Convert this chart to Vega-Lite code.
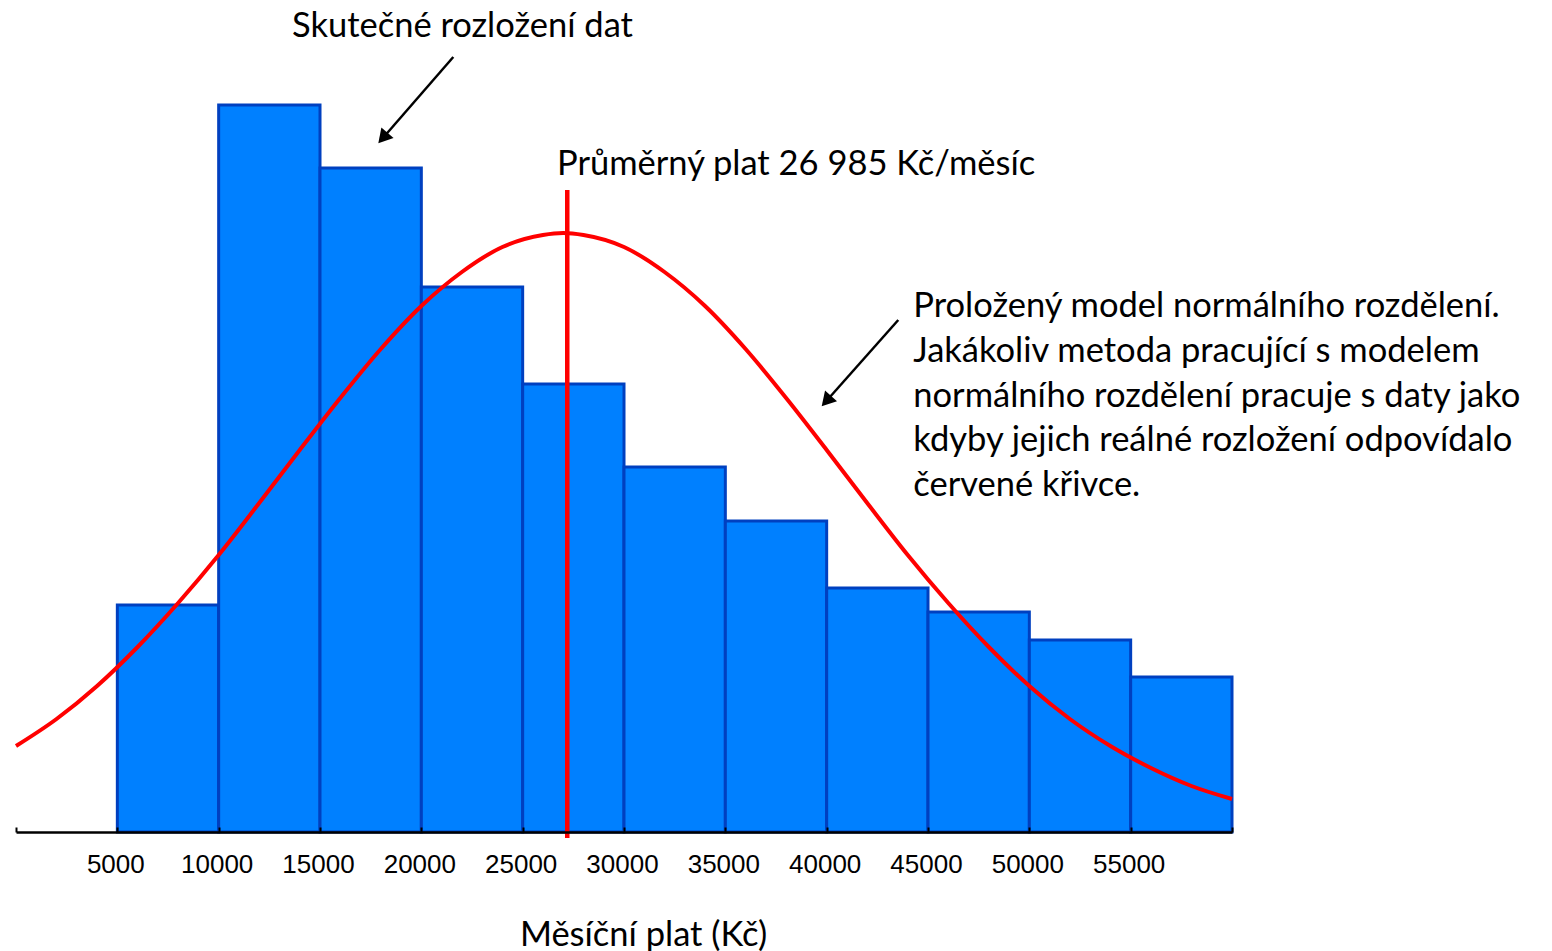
{
  "$schema": "https://vega.github.io/schema/vega-lite/v6.json",
  "width": 1216,
  "height": 832,
  "autosize": "none",
  "padding": {"left": 16, "top": 0, "right": 320, "bottom": 119},
  "background": "white",
  "config": {"view": {"stroke": null}},
  "datasets": {
    "bins": [
      {"start": 5000, "end": 10000, "count": 227},
      {"start": 10000, "end": 15000, "count": 727},
      {"start": 15000, "end": 20000, "count": 664},
      {"start": 20000, "end": 25000, "count": 545},
      {"start": 25000, "end": 30000, "count": 448},
      {"start": 30000, "end": 35000, "count": 365},
      {"start": 35000, "end": 40000, "count": 311},
      {"start": 40000, "end": 45000, "count": 244},
      {"start": 45000, "end": 50000, "count": 220},
      {"start": 50000, "end": 55000, "count": 192},
      {"start": 55000, "end": 60000, "count": 155}
    ],
    "curve": [
      {"salary": 0, "density": 86},
      {"salary": 2000, "density": 113},
      {"salary": 4000, "density": 146},
      {"salary": 6000, "density": 185},
      {"salary": 8000, "density": 229},
      {"salary": 10000, "density": 277},
      {"salary": 12000, "density": 329},
      {"salary": 14000, "density": 382},
      {"salary": 16000, "density": 434},
      {"salary": 18000, "density": 483},
      {"salary": 20000, "density": 526},
      {"salary": 22000, "density": 560},
      {"salary": 24000, "density": 585},
      {"salary": 26000, "density": 597},
      {"salary": 27000, "density": 599},
      {"salary": 28000, "density": 597},
      {"salary": 30000, "density": 585},
      {"salary": 32000, "density": 560},
      {"salary": 34000, "density": 526},
      {"salary": 36000, "density": 483},
      {"salary": 38000, "density": 434},
      {"salary": 40000, "density": 382},
      {"salary": 42000, "density": 329},
      {"salary": 44000, "density": 277},
      {"salary": 46000, "density": 229},
      {"salary": 48000, "density": 185},
      {"salary": 50000, "density": 146},
      {"salary": 52000, "density": 113},
      {"salary": 54000, "density": 86},
      {"salary": 56000, "density": 64},
      {"salary": 58000, "density": 46},
      {"salary": 60000, "density": 33}
    ],
    "mean": [{"salary": 27200, "low": -6, "high": 642}],
    "arrows": [
      {"x1": 21577, "y1": 775, "x2": 18103, "y2": 694, "angle": 221},
      {"x1": 43533, "y1": 512, "x2": 39985, "y2": 431, "angle": 222}
    ],
    "notes": [
      {"x": 13618, "y": 795, "label": "Skutečné rozložení dat"},
      {"x": 26696, "y": 657, "label": "Průměrný plat 26 985 Kč/měsíc"},
      {"x": 44274, "y": 515, "label": "Proložený model normálního rozdělení.\nJakákoliv metoda pracující s modelem\nnormálního rozdělení pracuje s daty jako\nkdyby jejich reálné rozložení odpovídalo\nčervené křivce."}
    ]
  },
  "layer": [
    {
      "data": {"name": "bins"},
      "mark": {"type": "rect", "fill": "#0080FF", "stroke": "#0040C0", "strokeWidth": 3},
      "encoding": {
        "x": {
          "field": "start", "type": "quantitative",
          "scale": {"domain": [0, 60000], "nice": false, "zero": true},
          "axis": {
            "zindex": 1,
            "values": [0, 5000, 10000, 15000, 20000, 25000, 30000, 35000, 40000, 45000, 50000, 55000, 60000],
            "labelExpr": "datum.value == 0 || datum.value == 60000 ? '' : datum.value",
            "grid": false,
            "domainColor": "black", "domainWidth": 2.5,
            "ticks": true, "tickColor": "black", "tickSize": -5, "tickWidth": 2,
            "labelFont": "Liberation Sans", "labelFontSize": 26, "labelColor": "black",
            "labelBaseline": "alphabetic", "labelPadding": 45, "labelFlush": false, "labelOffset": -2,
            "title": "Měsíční plat (Kč)",
            "titleFont": "Lato", "titleFontSize": 34.5, "titleFontWeight": "normal", "titleColor": "black",
            "titleX": 627, "titleY": 113, "titleAlign": "center", "titleBaseline": "alphabetic"
          }
        },
        "x2": {"field": "end"},
        "y": {"field": "count", "type": "quantitative", "scale": {"domain": [0, 832], "nice": false}, "axis": null},
        "y2": {"datum": 0}
      }
    },
    {
      "data": {"name": "curve"},
      "mark": {"type": "line", "color": "#FF0000", "strokeWidth": 4, "interpolate": "monotone", "clip": false},
      "encoding": {
        "x": {"field": "salary", "type": "quantitative"},
        "y": {"field": "density", "type": "quantitative"}
      }
    },
    {
      "data": {"name": "mean"},
      "mark": {"type": "rule", "color": "#FF0000", "strokeWidth": 4.5},
      "encoding": {
        "x": {"field": "salary", "type": "quantitative"},
        "y": {"field": "low", "type": "quantitative"},
        "y2": {"field": "high"}
      }
    },
    {
      "data": {"name": "arrows"},
      "mark": {"type": "rule", "color": "black", "strokeWidth": 2.5},
      "encoding": {
        "x": {"field": "x1", "type": "quantitative"},
        "y": {"field": "y1", "type": "quantitative"},
        "x2": {"field": "x2"},
        "y2": {"field": "y2"}
      }
    },
    {
      "data": {"name": "arrows"},
      "mark": {"type": "point", "shape": "triangle-up", "filled": true, "color": "black", "size": 260, "opacity": 1},
      "encoding": {
        "x": {"field": "x2", "type": "quantitative"},
        "y": {"field": "y2", "type": "quantitative"},
        "angle": {"field": "angle", "type": "quantitative", "scale": null}
      }
    },
    {
      "data": {"name": "notes"},
      "mark": {"type": "text", "align": "left", "baseline": "alphabetic", "font": "Lato", "fontSize": 34.5, "color": "black", "lineBreak": "\n", "lineHeight": 44.8},
      "encoding": {
        "x": {"field": "x", "type": "quantitative"},
        "y": {"field": "y", "type": "quantitative"},
        "text": {"field": "label"}
      }
    }
  ]
}
